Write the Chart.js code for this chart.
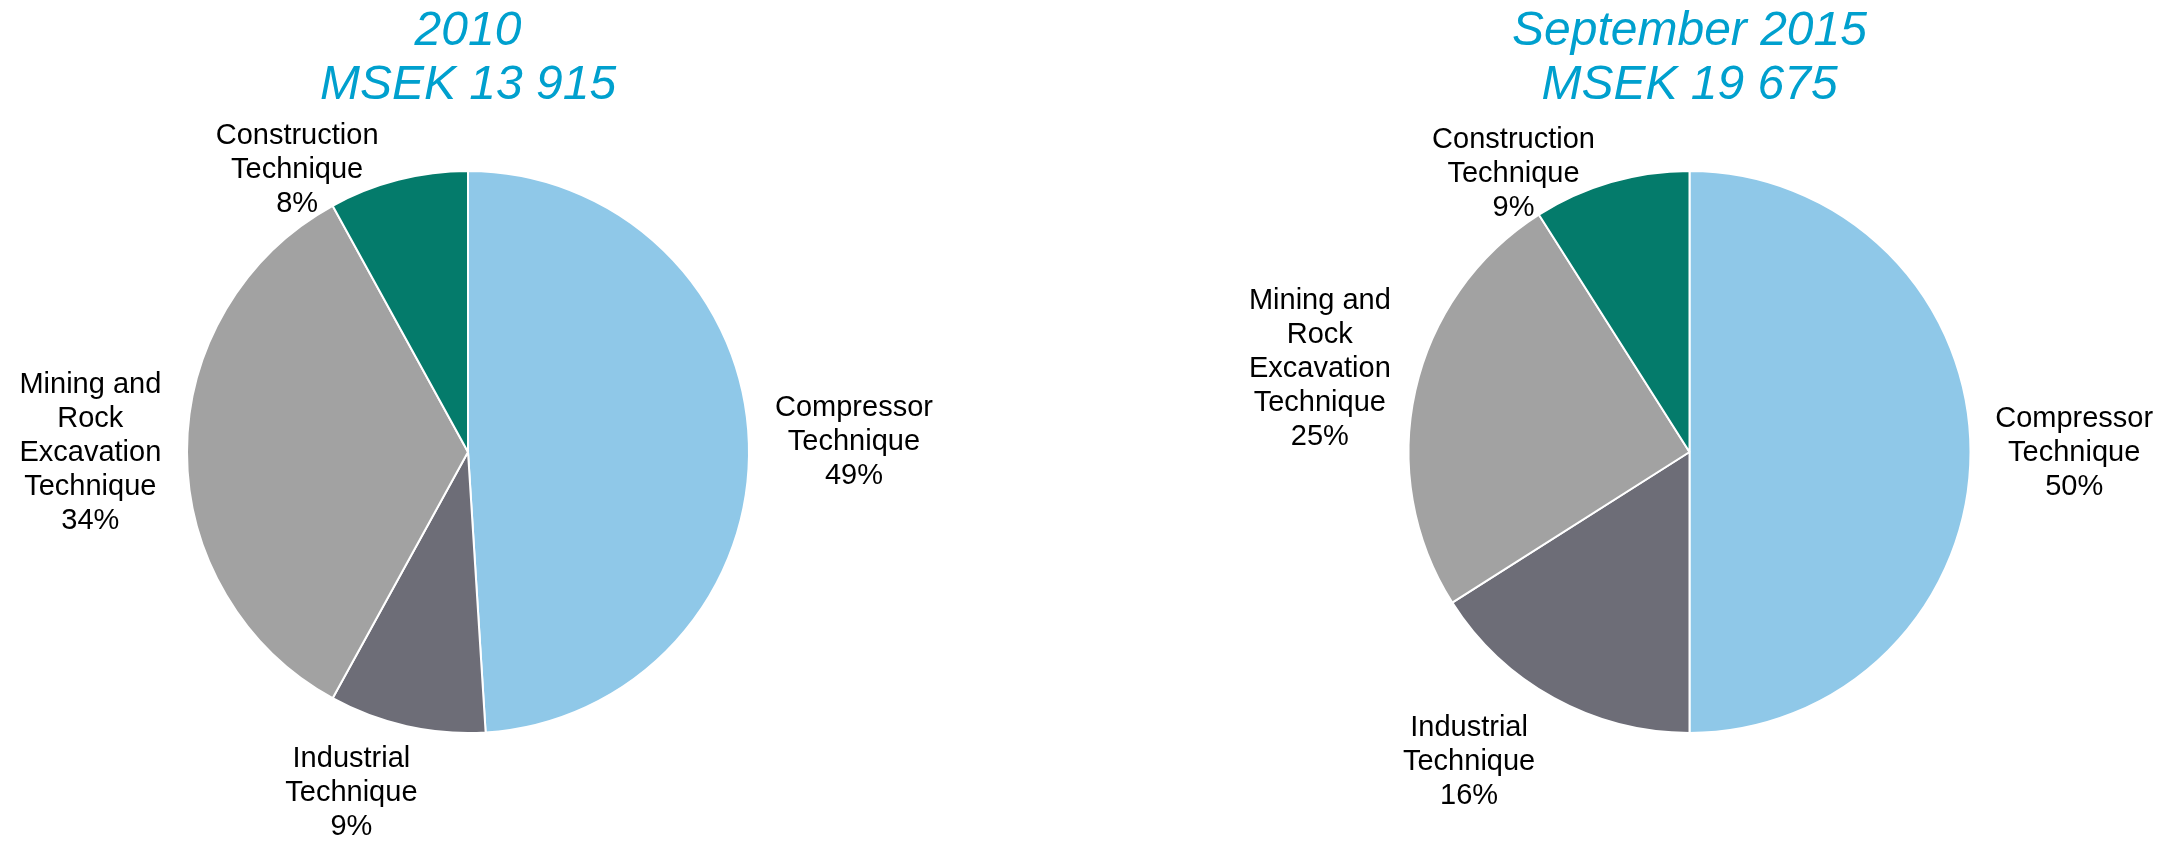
<!DOCTYPE html>
<html>
<head>
<meta charset="utf-8">
<script src="https://cdn.jsdelivr.net/npm/chart.js@4.4.1/dist/chart.umd.min.js"></script>
<style>
  html, body { margin: 0; padding: 0; background: #fff; }
  #wrap { position: relative; width: 2183px; height: 841px; }
  canvas { position: absolute; top: 0; }
  #pie2010 { left: 0; }
  #pie2015 { left: 1091px; }
</style>
</head>
<body>
<div id="wrap">
  <canvas id="pie2010" width="1091" height="841"></canvas>
  <canvas id="pie2015" width="1092" height="841"></canvas>
</div>
<script>
// Business areas, in the order the slices run clockwise from 12 o'clock
const categories = ['Compressor Technique', 'Industrial Technique', 'Mining and Rock Excavation Technique', 'Construction Technique'];
// Share of revenues, %
const share2010 = [49, 9, 34, 8];
const share2015 = [50, 16, 25, 9];
const title2010 = ['2010', 'MSEK 13 915'];
const title2015 = ['September 2015', 'MSEK 19 675'];

const sliceColors = ['#8FC8E8', '#6D6D77', '#A2A2A2', '#047B6B'];
const fontFamily = '"Liberation Sans", Arial, Helvetica, sans-serif';

// word wrap like the office chart does it
function wrap(ctx, text, maxWidth) {
  const words = text.split(' ');
  const lines = [];
  let line = '';
  words.forEach(w => {
    const test = line ? line + ' ' + w : w;
    if (line && ctx.measureText(test).width > maxWidth) {
      lines.push(line);
      line = w;
    } else {
      line = test;
    }
  });
  if (line) lines.push(line);
  return lines;
}

// Labels outside each slice: name + percentage
const sliceLabels = {
  id: 'sliceLabels',
  afterDatasetsDraw(chart, args, opts) {
    const ctx = chart.ctx;
    const meta = chart.getDatasetMeta(0);
    const values = chart.data.datasets[0].data;
    ctx.save();
    ctx.font = '29px ' + fontFamily;
    ctx.fillStyle = '#000';
    ctx.textAlign = 'center';
    ctx.textBaseline = 'middle';
    meta.data.forEach((arc, i) => {
      const p = arc.getProps(['x', 'y', 'startAngle', 'endAngle', 'outerRadius'], true);
      const a = (p.startAngle + p.endAngle) / 2 + opts.nudge[i] * Math.PI / 180;
      const d = p.outerRadius * opts.dist[i];
      const cx = p.x + Math.cos(a) * d;
      const cy = p.y + Math.sin(a) * d;
      const lines = wrap(ctx, chart.data.labels[i], 170).concat(values[i] + '%');
      const lh = 34;
      lines.forEach((t, k) => {
        ctx.fillText(t, cx, cy + (k - (lines.length - 1) / 2) * lh);
      });
    });
    ctx.restore();
  }
};

function makePie(id, values, title, padLeft, padRight, nudge, dist) {
  return new Chart(document.getElementById(id), {
    type: 'pie',
    data: {
      labels: categories,
      datasets: [{
        data: values,
        backgroundColor: sliceColors,
        borderColor: '#ffffff',
        borderWidth: 2,
        radius: 281,
        hoverOffset: 0
      }]
    },
    options: {
      responsive: false,
      animation: false,
      layout: {
        padding: { left: padLeft, right: padRight, top: 0, bottom: 56 }
      },
      plugins: {
        legend: { display: false },
        tooltip: { enabled: false },
        title: {
          display: true,
          text: title,
          color: '#00A0CE',
          font: { family: fontFamily, size: 48, style: 'italic', weight: 'normal', lineHeight: 1.125 },
          padding: { top: 5, bottom: 6 }
        },
        sliceLabels: { nudge: nudge, dist: dist }
      }
    },
    plugins: [sliceLabels]
  });
}

makePie('pie2010', share2010, title2010, 0, 155, [0.3, 6.3, -0.15, -16.8], [1.374, 1.281, 1.344, 1.174]);
makePie('pie2015', share2015, title2015, 105, 0, [0.15, 6.6, 0, -16.1], [1.369, 1.354, 1.348, 1.172]);
</script>
</body>
</html>
